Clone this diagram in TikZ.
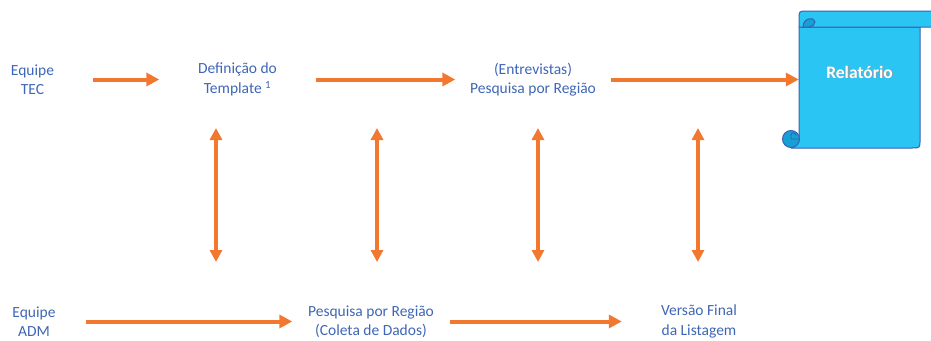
\documentclass[tikz,border=0pt]{standalone}
\usepackage{fontspec}
\setmainfont{Carlito}
\usepackage{tikz}
\usetikzlibrary{arrows.meta}
\definecolor{seta}{RGB}{242,120,48}
\definecolor{texto}{RGB}{62,102,182}
\definecolor{rolo}{RGB}{43,197,244}
\definecolor{rolocurva}{RGB}{22,160,212}
\definecolor{borda}{RGB}{58,96,178}
\tikzset{
  etapa/.style={text=texto,align=center,inner sep=0pt,minimum width=156pt,
    font=\fontsize{15.5}{19.5}\selectfont},
  fluxo/.style={-{Triangle[length=13pt,width=13pt]},seta,line width=4pt},
  duplo/.style={{Triangle[length=12pt,width=12pt]}-{Triangle[length=12pt,width=12pt]},seta,line width=3.5pt},
  papel/.style={fill=rolo,draw=borda,line width=1pt,line join=round},
  curva/.style={fill=rolocurva,draw=borda,line width=1pt}
}

\begin{document}
\begin{tikzpicture}[x=1pt,y=-1pt]
    \useasboundingbox (0,0) rectangle (931,340);
    % pergaminho
    \draw[papel] (799,27) -- (799,140) -- (791,148) -- (912,148) .. controls (920,148) .. (920,140) -- (920,27) -- cycle;
    \draw[papel] (945,27) -- (799,27) -- (799,19) .. controls (799,11) .. (807,11) -- (945,11) -- cycle;
    \draw[curva] (803,27) .. controls (803,17) and (815,17) .. (815,22) .. controls (815,25) and (812,27) .. (809,27) -- cycle;
    \draw[curva] (791,139) circle (8.5);
    \draw[borda,line width=0.9pt] (799,139) -- (791,139) -- (791,135) .. controls (791,132) and (796,132) .. (796,135.5);
    \node[text=white,font=\fontsize{17.5}{20}\selectfont\bfseries,minimum width=121pt,minimum height=137pt,inner sep=0pt]
      (rel) at (859.5,79.5) {\raisebox{15pt}{\rlap{\kern0.8pt\raisebox{-0.8pt}{\color{black!40}Relatório}}Relatório}};
    % linha de cima
    \node[etapa,minimum width=121pt] (tec) at (32.5,79.5) {Equipe\\TEC};
    \node[etapa] (def) at (237.5,79.5) {Definição do\\Template \textsuperscript{1}};
    \node[etapa,minimum width=155pt] (ent) at (533,79.5) {(Entrevistas)\\Pesquisa por Região};
    % linha de baixo
    \node[etapa,minimum width=104pt] (adm) at (34,321.5) {Equipe\\ADM};
    \node[etapa,minimum width=157pt] (pes) at (371,321.5) {Pesquisa por Região\\(Coleta de Dados)};
    \node[etapa,minimum width=154pt] (ver) at (699,321.5) {Versão Final\\da Listagem};
    \draw[fluxo] (tec.east) -- (def.west);
    \draw[fluxo] (def.east) -- (ent.west);
    \draw[fluxo] (ent.east) -- (rel.west);
    \draw[fluxo] (adm.east) -- (pes.west);
    \draw[fluxo] (pes.east) -- (ver.west);
    \foreach \x [count=\i] in {216,377,538,698} {
      \coordinate (cima\i) at (\x,128);
      \coordinate (baixo\i) at (\x,262);
      \draw[duplo] (cima\i) -- (baixo\i);
    }
\end{tikzpicture}
\end{document}
